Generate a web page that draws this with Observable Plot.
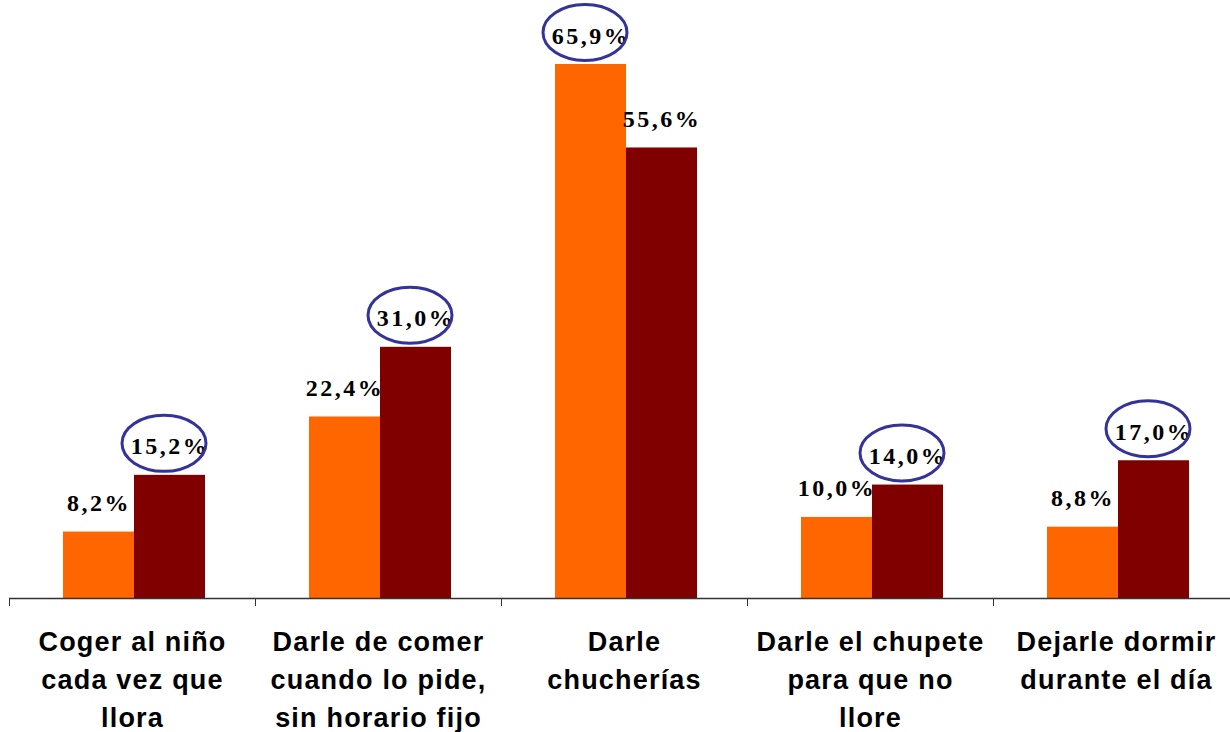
<!DOCTYPE html>
<html><head><meta charset="utf-8">
<script src="https://cdn.jsdelivr.net/npm/d3@7"></script>
<script src="https://cdn.jsdelivr.net/npm/@observablehq/plot@0.6"></script>
<style>body{margin:0;background:#fff;}</style>
</head><body><div id="chart"></div>
<script>
const categories = [
  "Coger al niño\ncada vez que\nllora",
  "Darle de comer\ncuando lo pide,\nsin horario fijo",
  "Darle\nchucherías",
  "Darle el chupete\npara que no\nllore",
  "Dejarle dormir\ndurante el día"
];
const seriesNames = ["Serie 1", "Serie 2"];
const serie1 = [8.2, 22.4, 65.9, 10.0, 8.8];
const serie2 = [15.2, 31.0, 55.6, 14.0, 17.0];
const colors = ["#FF6600", "#800000"];

const data = categories.flatMap((c, i) => [
  {category: c, series: seriesNames[0], value: serie1[i]},
  {category: c, series: seriesNames[1], value: serie2[i]}
]);
const highlighted = data.filter(d => {
  const i = categories.indexOf(d.category);
  return d.value === Math.max(serie1[i], serie2[i]);
});
const fmt = v => v.toFixed(1).replace(".", ",") + "%";

const ellipse = {
  draw(ctx, size) {
    const ry = Math.sqrt(size / Math.PI), rx = ry * 1.5, k = 0.5523;
    ctx.moveTo(rx, 0);
    ctx.bezierCurveTo(rx, ry * k, rx * k, ry, 0, ry);
    ctx.bezierCurveTo(-rx * k, ry, -rx, ry * k, -rx, 0);
    ctx.bezierCurveTo(-rx, -ry * k, -rx * k, -ry, 0, -ry);
    ctx.bezierCurveTo(rx * k, -ry, rx, -ry * k, rx, 0);
    ctx.closePath();
  }
};

const chart = Plot.plot({
  width: 1230, height: 732,
  marginTop: 0, marginBottom: 134, marginLeft: 8, marginRight: 0,
  fx: {domain: categories, range: [8, 1239], padding: 0, axis: null},
  x: {domain: seriesNames, paddingInner: 0, paddingOuter: 0.72, align: 0.52, axis: null},
  y: {domain: [0, 73.8], axis: null},
  color: {domain: seriesNames, range: colors},
  marks: [
    Plot.barY(data, {fx: "category", x: "series", y: "value", fill: "series"}),
    Plot.ruleY([0], {stroke: "#333", strokeWidth: 1.5}),
    Plot.axisFx({anchor: "bottom", tickSize: 8, tickFormat: () => "", dx: -123, label: null, stroke: "#333"}),
    Plot.text(data, {fx: "category", x: "series", y: "value", text: d => fmt(d.value),
      lineAnchor: "bottom", dy: -21, fontFamily: "Liberation Serif", fontWeight: "bold", fontSize: 24, fill: "#000"}),
    Plot.dot(highlighted, {fx: "category", x: "series", y: "value", symbol: ellipse, r: 28,
      dx: -6, dy: -32, fill: "none", stroke: "#333399", strokeWidth: 3}),
    Plot.text(categories, {fx: d => d, text: d => d, frameAnchor: "bottom", lineAnchor: "top", dy: 25,
      lineHeight: 1.42, fontFamily: "Liberation Sans", fontWeight: "bold", fontSize: 27, fill: "#000"})
  ]
});
d3.select(chart).selectAll('g[font-family="Liberation Serif"]').attr("letter-spacing", "2.5px");
d3.select(chart).selectAll('g[font-family="Liberation Sans"]').attr("letter-spacing", "1.2px");
document.getElementById("chart").appendChild(chart);
</script>
</body></html>
